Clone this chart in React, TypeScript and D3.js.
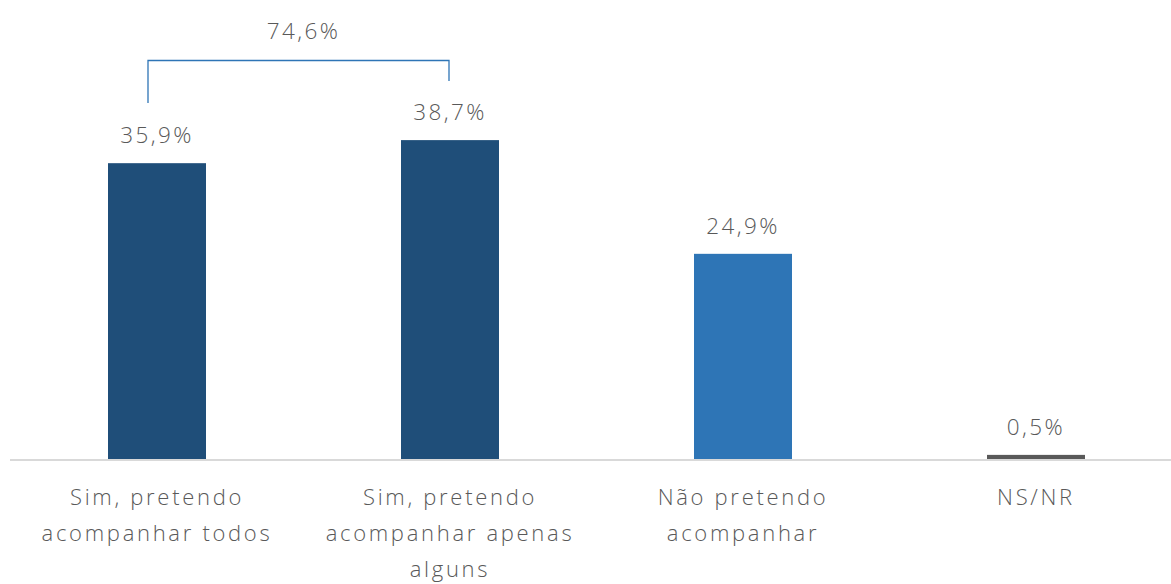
import React from "react";
import * as d3 from "d3";

const categories: string[][] = [
  ["Sim, pretendo", "acompanhar todos"],
  ["Sim, pretendo", "acompanhar apenas", "alguns"],
  ["Não pretendo", "acompanhar"],
  ["NS/NR"],
];
const values: number[] = [35.9, 38.7, 24.9, 0.5];
const valueLabels: string[] = ["35,9%", "38,7%", "24,9%", "0,5%"];
const colors: string[] = ["#1f4e79", "#1f4e79", "#2e75b6", "#595959"];
const bracketLabel = "74,6%";

const W = 1171;
const H = 584;
const FONT = "'Open Sans', 'Noto Sans', sans-serif";

export default function App() {
  const keys = categories.map((_, i) => String(i));
  const x = d3.scalePoint<string>().domain(keys).range([10.5, 1182.5]).padding(0.5);
  const y = d3.scaleLinear().domain([0, 40]).range([459, 129.4]);
  const barW = 98;
  const base = y(0);

  const x0 = x("0")!;
  const x1 = x("1")!;

  return (
    <svg width={W} height={H} style={{ position: "absolute", left: 0, top: 0, background: "#fff" }} fontFamily={FONT} fontWeight={300}>
      {values.map((v, i) => {
        const cx = x(String(i))!;
        const top = y(v);
        return (
          <g key={i}>
            <rect x={cx - barW / 2} y={top} width={barW} height={base - top} fill={colors[i]} />
            <text x={cx} y={top - 20} textAnchor="middle" fontSize={22.5} letterSpacing={2.4} fill="#595959">
              {valueLabels[i]}
            </text>
          </g>
        );
      })}
      <line x1={10} x2={W} y1={base + 1} y2={base + 1} stroke="#d9d9d9" strokeWidth={2} />
      {categories.map((lines, i) => (
        <text key={i} x={x(String(i))!} textAnchor="middle" fontSize={22} letterSpacing={2.7} fill="#595959">
          {lines.map((l, j) => (
            <tspan key={j} x={x(String(i))!} y={505 + j * 36}>
              {l}
            </tspan>
          ))}
        </text>
      ))}
      <path
        d={`M${x0 - 9},103 V60.5 H${x1 - 1} V81`}
        fill="none"
        stroke="#2e75b6"
        strokeWidth={1.3}
      />
      <text x={(x0 + x1) / 2} y={39} textAnchor="middle" fontSize={22.5} letterSpacing={2.4} fill="#595959">
        {bracketLabel}
      </text>
    </svg>
  );
}
